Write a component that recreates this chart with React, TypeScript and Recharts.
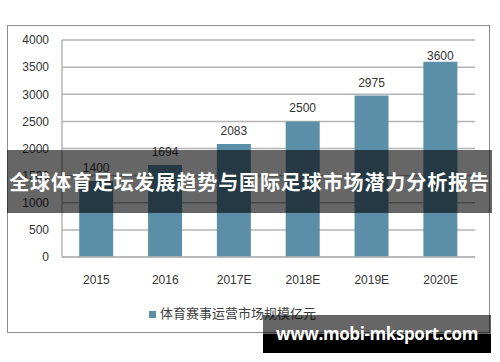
import React from "react";
import {
  BarChart,
  Bar,
  XAxis,
  YAxis,
  CartesianGrid,
  Legend,
  LabelList,
} from "recharts";

const years = ["2015", "2016", "2017E", "2018E", "2019E", "2020E"];
const marketSize = [1400, 1694, 2083, 2500, 2975, 3600];
const yTicks = [0, 500, 1000, 1500, 2000, 2500, 3000, 3500, 4000];

const seriesName = "体育赛事运营市场规模亿元";
const bannerText = "全球体育足坛发展趋势与国际足球市场潜力分析报告";
const siteText = "www.mobi-mksport.com";

const BAR_COLOR = "#5b8fa8";
const GRID_COLOR = "#b4b4b4";

const chartData = years.map((year, i) => ({ year, value: marketSize[i] }));

// excel keeps the top label inside the plot, so clamp it
const BarValueLabel = (props: any) => {
  const { x, y, width, value } = props;
  const cy = Math.max(y - 13, 56);
  return (
    <text
      x={x + width / 2}
      y={cy}
      textAnchor="middle"
      dominantBaseline="central"
      fill="#333"
      fontSize={12}
      fontFamily="Liberation Sans, Arial, sans-serif"
    >
      {value}
    </text>
  );
};

export default function App() {
  return (
    <div
      style={{
        position: "absolute",
        left: 0,
        top: 0,
        width: 500,
        height: 362,
        background: "#fff",
        overflow: "hidden",
      }}
    >
      <div
        style={{
          position: "absolute",
          left: 7,
          top: 25,
          width: 483,
          height: 308,
          border: "1px solid #8c8c8c",
          boxSizing: "border-box",
        }}
      />
      <div style={{ position: "absolute", left: 0, top: 0 }}>
        <BarChart
          width={500}
          height={362}
          data={chartData}
          margin={{ top: 40, right: 25, left: 0, bottom: 55 }}
          barCategoryGap="25%"
        >
          <CartesianGrid
            vertical={false}
            stroke={GRID_COLOR}
            strokeWidth={1.5}
          />
          <XAxis
            dataKey="year"
            tickLine={false}
            axisLine={{ stroke: GRID_COLOR, strokeWidth: 1.5 }}
            tick={{
              fill: "#333",
              fontSize: 12,
              fontFamily: "Liberation Sans, Arial, sans-serif",
            }}
            tickMargin={12}
            height={30}
          />
          <YAxis
            width={62}
            domain={[0, 4000]}
            ticks={yTicks}
            interval={0}
            tickLine={false}
            axisLine={{ stroke: GRID_COLOR, strokeWidth: 1.5 }}
            tick={{
              fill: "#333",
              fontSize: 12,
              fontFamily: "Liberation Sans, Arial, sans-serif",
            }}
            tickMargin={7}
          />
          <Legend
            verticalAlign="bottom"
            align="center"
            iconType="square"
            iconSize={7}
            height={20}
            wrapperStyle={{
              top: 303,
              fontSize: 13,
              fontFamily: "Noto Sans CJK SC, sans-serif",
              color: "#404040",
            }}
            formatter={(v: string) => <span style={{ color: "#404040" }}>{v}</span>}
          />
          <Bar
            dataKey="value"
            name={seriesName}
            fill={BAR_COLOR}
            isAnimationActive={false}
          >
            <LabelList dataKey="value" content={<BarValueLabel />} />
          </Bar>
        </BarChart>
      </div>
      <div
        style={{
          position: "absolute",
          left: 7,
          top: 150,
          width: 485,
          height: 63,
          background: "rgba(0,0,0,0.6)",
          color: "#fff",
          fontFamily: "'Noto Sans CJK SC', sans-serif",
          fontWeight: 700,
          fontSize: 20,
          letterSpacing: 0.9,
          display: "flex",
          alignItems: "center",
          justifyContent: "center",
          whiteSpace: "nowrap",
        }}
      >
        <span>{bannerText}</span>
      </div>
      <div
        style={{
          position: "absolute",
          left: 263,
          top: 315,
          width: 228,
          height: 38,
          background:
            "linear-gradient(to bottom, rgba(0,0,0,0.6) 0, rgba(0,0,0,0.6) 19px, #000 19px, #000 100%)",
          color: "#fff",
          fontFamily: "Open Sans, sans-serif",
          fontWeight: 700,
          fontSize: 17,
          letterSpacing: -0.4,
          lineHeight: "38px",
          textAlign: "center",
          whiteSpace: "nowrap",
        }}
      >
        {siteText}
      </div>
    </div>
  );
}
